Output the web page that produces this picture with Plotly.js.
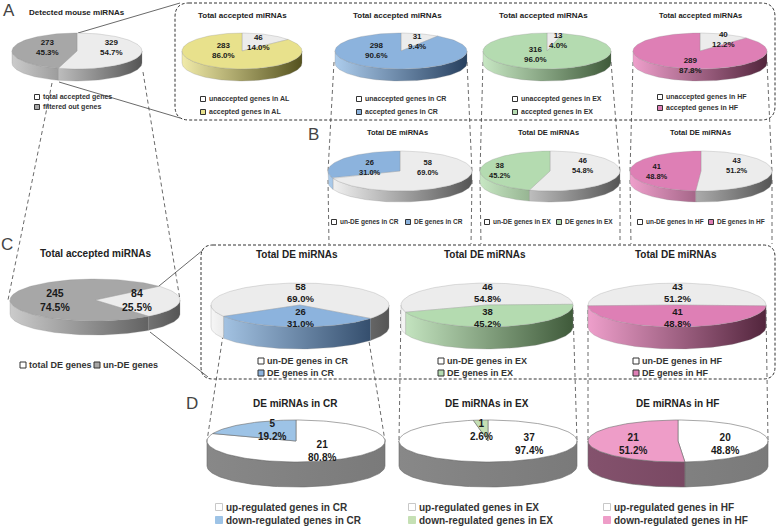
<!DOCTYPE html>
<html><head><meta charset="utf-8">
<script src="https://cdn.plot.ly/plotly-3.0.1.min.js"></script>
<style>body{margin:0;background:#fff}#chart{width:778px;height:527px}</style>
</head><body><div id="chart"></div>
<script>
// ---------------- data ----------------
const detectedLabels = ['total accepted genes', 'filtered out genes'];
const detectedCounts = [329, 273];
const dietGroups = ['AL', 'CR', 'EX', 'HF'];
const unacceptedCounts = [46, 31, 13, 40];
const acceptedCounts = [283, 298, 316, 289];
const deGroups = ['CR', 'EX', 'HF'];
const unDECounts = [58, 46, 43];
const deCounts = [26, 38, 41];
const acceptedSplitLabels = ['total DE genes', 'un-DE genes'];
const acceptedSplitCounts = [84, 245];
const upCounts = [21, 37, 20];
const downCounts = [5, 1, 21];

// ---------------- styles ----------------
const FONT = 'Liberation Sans, Arial, sans-serif';
const PAL = {
  lg: {top: '#ececec', side: ['#f6f6f6', '#555555'], leg: '#ffffff'},
  mg: {top: '#a7a7a7', side: ['#cbcbcb', '#4a4a4a'], leg: '#a7a7a7'},
  yl: {top: '#e8e18c', side: ['#f1eba9', '#55521f'], leg: '#e8e18c'},
  bl: {top: '#8cb3dd', side: ['#acccec', '#27405f'], leg: '#8cb3dd'},
  gr: {top: '#b4dbb0', side: ['#c7e7c3', '#3f5a3a'], leg: '#b4dbb0'},
  pk: {top: '#de7fb5', side: ['#ee9fcb', '#52253c'], leg: '#de7fb5'},
  wD: {top: '#ffffff', side: ['#888888', '#7a7a7a'], leg: '#ffffff'},
  bD: {top: '#9dc3e6', side: ['#7d9cb8', '#5d7a96'], leg: '#9dc3e6'},
  gD: {top: '#c5e0b4', side: ['#9db38f', '#7d9170'], leg: '#c5e0b4'},
  pD: {top: '#ee9dc8', side: ['#84526d', '#70405a'], leg: '#ee9dc8'}
};
const OL = 'rgba(140,140,140,0.45)';

// ---------------- pie layout specs ----------------
const pies = [];
pies.push({vals: detectedCounts, cols: ['lg', 'mg'], cx: 77, cy: 51, rx: 65, ry: 18, d: 12, start: 0,
  lab: [[111, 47], [47, 47]], fs: 8, ol: OL});
const aCol = ['yl', 'bl', 'gr', 'pk'], aCx = [242, 401, 547, 700], aRx = [60, 66, 64, 67];
const aLab = [[[258, 42], [223, 50]], [[417, 41], [376, 50]], [[558, 40], [535, 54]], [[723, 39], [690, 65]]];
dietGroups.forEach((g, i) => pies.push({vals: [unacceptedCounts[i], acceptedCounts[i]], cols: ['lg', aCol[i]],
  cx: aCx[i], cy: 51, rx: aRx[i], ry: 18, d: 12, start: 0, lab: aLab[i], fs: 8, ol: OL}));
const dCol = ['bl', 'gr', 'pk'];
const bCx = [400, 550, 701], bRx = [72, 70, 71];
const bLab = [[[428, 167], [370, 167]], [[583, 165], [500, 170]], [[737, 165], [657, 171]]];
deGroups.forEach((g, i) => pies.push({vals: [unDECounts[i], deCounts[i]], cols: ['lg', dCol[i]],
  cx: bCx[i], cy: 171, rx: bRx[i], ry: 20, d: 11, start: 0, lab: bLab[i], fs: 7.5, ol: OL}));
pies.push({vals: acceptedSplitCounts, cols: ['lg', 'mg'], cx: 95, cy: 300, rx: 85, ry: 21, d: 14, start: 49,
  lab: [[137, 300], [55, 300]], fs: 10.5, ol: OL});
const cCx = [300, 487, 677], cRx = [89, 86, 89], cStart = [239, 251, 268];
deGroups.forEach((g, i) => pies.push({vals: [unDECounts[i], deCounts[i]], cols: ['lg', dCol[i]],
  cx: cCx[i], cy: 305, rx: cRx[i], ry: 22, d: 22, start: cStart[i],
  lab: [[cCx[i], 292], [cCx[i], 317.5]], fs: 9.5, ol: OL}));
const eCol = ['bD', 'gD', 'pD'], eCx = [296, 488, 678], eRx = [89, 89, 90];
const eLab = [[[322, 451], [272, 430]], [[529, 444], [481, 430]], [[725, 444], [633, 444]]];
deGroups.forEach((g, i) => pies.push({vals: [upCounts[i], downCounts[i]], cols: ['wD', eCol[i]],
  cx: eCx[i], cy: 441, rx: eRx[i], ry: 21, d: 25, start: 0, lab: eLab[i], fs: 10, ol: '#6b6b6b'}));

// ---------------- geometry helpers ----------------
function arcPoints(p, a1, a2, off) {
  const n = Math.max(2, Math.ceil(Math.abs(a2 - a1) / 2));
  const xs = [], ys = [];
  for (let k = 0; k <= n; k++) {
    const a = (a1 + (a2 - a1) * k / n) * Math.PI / 180;
    xs.push(p.cx + p.rx * Math.sin(a));
    ys.push(p.cy - p.ry * Math.cos(a) + off);
  }
  return [xs, ys];
}

const sideTraces = [], topTraces = [], annotations = [], shapes = [];
pies.forEach(p => {
  const total = p.vals.reduce((a, b) => a + b, 0);
  let cum = 0;
  p.vals.forEach((v, i) => {
    const a1 = p.start + 360 * cum / total;
    cum += v;
    const a2 = p.start + 360 * cum / total;
    const col = PAL[p.cols[i]];
    // visible side wall (front half: 90..270 deg clockwise from top)
    for (let k = -1; k <= 2; k++) {
      const lo = Math.max(a1, 90 + 360 * k), hi = Math.min(a2, 270 + 360 * k);
      if (hi - lo > 0.01) {
        const [xt, yt] = arcPoints(p, lo, hi, 0);
        const [xb, yb] = arcPoints(p, hi, lo, p.d);
        const x = xt.concat(xb, [xt[0]]), y = yt.concat(yb, [yt[0]]);
        sideTraces.push({type: 'scatter', mode: 'lines', x, y, fill: 'toself',
          fillcolor: col.side[1],
          fillgradient: {type: 'horizontal', colorscale: [[0, col.side[0]], [1, col.side[1]]],
            start: p.cx - p.rx, stop: p.cx + p.rx},
          line: {color: p.ol, width: 0.6}, hoverinfo: 'skip', showlegend: false});
      }
    }
    const [xa, ya] = arcPoints(p, a1, a2, 0);
    topTraces.push({type: 'scatter', mode: 'lines', x: [p.cx].concat(xa, [p.cx]), y: [p.cy].concat(ya, [p.cy]),
      fill: 'toself', fillcolor: col.top, line: {color: p.ol, width: 0.6}, hoverinfo: 'skip', showlegend: false});
    annotations.push({x: p.lab[i][0], y: p.lab[i][1], xref: 'x', yref: 'y', showarrow: false,
      text: '<b>' + v + '<br>' + (100 * v / total).toFixed(1) + '%</b>',
      font: {family: FONT, size: p.fs, color: '#1a1a1a'}, xanchor: 'center', yanchor: 'middle'});
  });
});

// ---------------- text helpers ----------------
function txt(x, y, t, size, opts) {
  annotations.push(Object.assign({x, y, xref: 'x', yref: 'y', showarrow: false, text: t,
    font: {family: FONT, size, color: '#222'}, xanchor: 'center', yanchor: 'middle'}, opts || {}));
}
function legItem(x, y, label, key, sq, size, outline) {
  shapes.push({type: 'rect', xref: 'x', yref: 'y', x0: x - sq / 2, x1: x + sq / 2, y0: y - sq / 2, y1: y + sq / 2,
    fillcolor: PAL[key].leg, line: {color: outline, width: 1}, layer: 'above'});
  txt(x + sq / 2 + 1, y, '<b>' + label + '</b>', size, {xanchor: 'left', font: {family: FONT, size, color: '#333'}});
}
function line(x0, y0, x1, y1, dash, layer) {
  shapes.push({type: 'line', xref: 'x', yref: 'y', x0, y0, x1, y1, layer: layer || 'below',
    line: {color: '#444', width: 0.8, dash: dash || 'solid'}});
}
function roundBox(x0, y0, x1, y1, r) {
  const path = `M${x0 + r},${y0} L${x1 - r},${y0} Q${x1},${y0} ${x1},${y0 + r} L${x1},${y1 - r} Q${x1},${y1} ${x1 - r},${y1} ` +
    `L${x0 + r},${y1} Q${x0},${y1} ${x0},${y1 - r} L${x0},${y0 + r} Q${x0},${y0} ${x0 + r},${y0} Z`;
  shapes.push({type: 'path', xref: 'x', yref: 'y', path, layer: 'below', line: {color: '#333', width: 1, dash: '3px,2px'}});
}

// panel letters
[['A', 9, 10], ['B', 313, 134], ['C', 7, 244], ['D', 192, 403]].forEach(([t, x, y]) =>
  txt(x, y, t, 17, {font: {family: FONT, size: 17, color: '#444'}}));

// panel A
txt(77, 12, '<b>Detected mouse miRNAs</b>', 8);
legItem(37, 97, detectedLabels[0], 'lg', 5, 7, '#333');
legItem(37, 107, detectedLabels[1], 'mg', 5, 7, '#333');
const aTitleX = [242, 397, 543, 700], aLegX = [203, 359, 515, 660];
dietGroups.forEach((g, i) => {
  txt(aTitleX[i], 15, '<b>Total accepted miRNAs</b>', i === 3 ? 7.5 : 8);
  const r = i === 3 ? [97, 108] : [99, 112];
  legItem(aLegX[i], r[0], 'unaccepted genes in ' + g, 'lg', 5, 7, '#333');
  legItem(aLegX[i], r[1], 'accepted genes in ' + g, aCol[i], 5, 7, '#333');
});
roundBox(175, 3, 775, 120, 14);
line(78, 33, 180, 3);
line(59, 82, 180, 118);

// panel B
const bTitleX = [397, 548, 700], bLeg1 = [334, 487, 640], bLeg2 = [408, 559, 711];
deGroups.forEach((g, i) => {
  txt(bTitleX[i], 132, '<b>Total DE miRNAs</b>', 7.5);
  legItem(bLeg1[i], 222, 'un-DE genes in ' + g, 'lg', 5, 6.5, '#333');
  legItem(bLeg2[i], 222, 'DE genes in ' + g, dCol[i], 5, 6.5, '#333');
});
[[334, 62, 328, 172], [467, 62, 472, 172], [483, 62, 480, 172], [611, 62, 620, 172], [633, 62, 630, 172], [767, 62, 772, 172],
 [328, 180, 329, 244], [472, 180, 471, 244], [480, 180, 481, 244], [620, 180, 620, 244], [630, 180, 631, 244], [772, 180, 772, 244]]
  .forEach(l => line(l[0], l[1], l[2], l[3], '4px,3px'));

// panel C
txt(95, 253, '<b>Total accepted miRNAs</b>', 10);
legItem(23, 365, acceptedSplitLabels[0], 'lg', 6, 9, '#333');
legItem(97, 365, acceptedSplitLabels[1], 'mg', 6, 9, '#333');
roundBox(201, 245, 775, 379, 12);
line(159, 286, 203, 250);
line(150, 332, 208, 377);
line(52, 83, 8, 300, '4px,3px');
line(143, 72, 180, 300, '4px,3px');
const cTitleX = [297, 485, 676], cLegX = [261, 441, 636];
deGroups.forEach((g, i) => {
  txt(cTitleX[i], 254, '<b>Total DE miRNAs</b>', 10);
  legItem(cLegX[i], 361, 'un-DE genes in ' + g, 'lg', 6, 9, '#333');
  legItem(cLegX[i], 373, 'DE genes in ' + g, dCol[i], 6, 9, '#333');
});
[[223, 335, 207, 441], [368, 335, 385, 441], [401, 310, 399, 441], [573, 310, 577, 441], [588, 310, 588, 441], [766, 310, 768, 441]]
  .forEach(l => line(l[0], l[1], l[2], l[3], '4px,3px'));

// panel D
const dTitleX = [295, 487, 677], dLegX = [219, 412, 607];
deGroups.forEach((g, i) => {
  txt(dTitleX[i], 403, '<b>DE miRNAs in ' + g + '</b>', 10);
  legItem(dLegX[i], 507, 'up-regulated genes in ' + g, 'wD', 7, 10, '#c8c8c8');
  legItem(dLegX[i], 520, 'down-regulated genes in ' + g, eCol[i], 7, 10, PAL[eCol[i]].leg);
});

const layout = {
  width: 778, height: 527, autosize: false, margin: {l: 0, r: 0, t: 0, b: 0},
  paper_bgcolor: '#fff', plot_bgcolor: '#fff', showlegend: false,
  xaxis: {range: [0, 778], visible: false, fixedrange: true},
  yaxis: {range: [527, 0], visible: false, fixedrange: true},
  annotations, shapes
};
Plotly.newPlot('chart', sideTraces.concat(topTraces), layout, {staticPlot: true});
</script></body></html>
